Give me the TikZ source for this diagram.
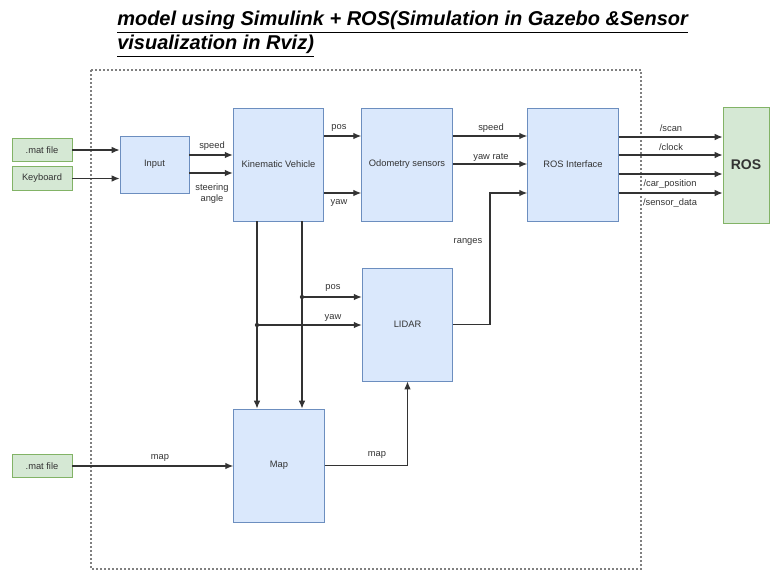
\documentclass[tikz,border=0pt]{standalone}
\usepackage{fontspec}
\setmainfont{Liberation Sans}
\usepackage{tikz}
\usetikzlibrary{arrows.meta}
\definecolor{blkfill}{HTML}{DAE8FC}
\definecolor{blkline}{HTML}{6C8EBF}
\definecolor{srcfill}{HTML}{D5E8D4}
\definecolor{srcline}{HTML}{82B366}
\definecolor{wire}{HTML}{333333}

\tikzset{
  blk/.style={draw=blkline, fill=blkfill, line width=0.6pt, inner sep=0pt,
    minimum width=68pt, minimum height=84.75pt, font=\fontsize{7}{8}\selectfont, text=wire},
  src/.style={draw=srcline, fill=srcfill, line width=0.6pt, inner sep=0pt,
    minimum width=45pt, minimum height=17.5pt, font=\fontsize{7}{8}\selectfont, text=wire},
  lbl/.style={font=\fontsize{7}{8}\selectfont, text=wire, inner sep=0pt, align=center},
  wr/.style={draw=wire, line width=0.9pt, -{Latex[length=6pt,width=5pt]}}
}

\begin{document}
\begin{tikzpicture}[x=0.75pt, y=-0.75pt]
\useasboundingbox (0,0) rectangle (776,576);
% title
\node[anchor=north west, align=left, inner sep=0pt, font=\fontsize{15}{18}\selectfont\bfseries\itshape] (title) at (117,11)
  {\underline{model using Simulink + ROS(Simulation in Gazebo \&Sensor}\\\underline{visualization in Rviz)}};
% subsystem frame
\draw[gray, line width=1pt, dash pattern=on 1.5pt off 1.5pt] (91,70) rectangle (641,569);

% sources
\node[src] (matA) at (42,150) {.mat file};
\node[src] (keyb) at (42,178.5) {Keyboard};
\node[src] (matB) at (42,466) {.mat file};

% blocks
\node[blk, minimum width=51.75pt, minimum height=42.75pt] (input) at (154.5,164.5) {Input};
\node[blk] (kin) at (278.5,164.5) {Kinematic Vehicle};
\node[blk] (odo) at (407,164.5) {Odometry sensors};
\node[blk] (rosif) at (573,164.5) {ROS Interface};
\node[blk] (lidar) at (407.5,324.5) {LIDAR};
\node[blk] (map) at (279,465.5) {Map};
\node[src, minimum width=34.5pt, minimum height=87pt, font=\fontsize{10.5}{12}\selectfont\bfseries] (ros) at (746,165) {ROS};

% inputs
\draw[wr] (matA.east) -- (input.west |- matA.east);
\draw[wr] (keyb.east) -- (input.west |- keyb.east);
\draw[wr] (input.east |- 0,155) -- (kin.west |- 0,155);
\draw[wr] (input.east |- 0,173) -- (kin.west |- 0,173);
\node[lbl] (lspeed) at (212,146) {speed};
\node[lbl] (lsteer) at (212,193.5) {steering\\angle};

% vehicle -> odometry
\draw[wr] (kin.east |- 0,136) -- (odo.west |- 0,136);
\draw[wr] (kin.east |- 0,193) -- (odo.west |- 0,193);
\node[lbl] (lpos) at (339,128) {pos};
\node[lbl] (lyaw) at (339,203) {yaw};

% odometry -> ROS interface
\draw[wr] (odo.east |- 0,136) -- (rosif.west |- 0,136);
\draw[wr] (odo.east |- 0,164) -- (rosif.west |- 0,164);
\node[lbl] (lspeed2) at (491,128) {speed};
\node[lbl] (lyawr) at (491,157) {yaw rate};

% vehicle -> map, with taps to LIDAR
\coordinate (b1) at (302,297);
\coordinate (b2) at (257,325);
\draw[wr] (kin.south -| b2) -- (map.north -| b2);
\draw[wr] (kin.south -| b1) -- (map.north -| b1);
\fill[wire] (b1) circle (1.6pt);
\fill[wire] (b2) circle (1.6pt);
\draw[wr] (b1) -- (lidar.west |- b1);
\draw[wr] (b2) -- (lidar.west |- b2);
\node[lbl] (lpos2) at (333,288) {pos};
\node[lbl] (lyaw2) at (333,318) {yaw};

% LIDAR -> ROS interface
\coordinate (r1) at (490,193);
\draw[wr] (lidar.east) -| (r1) -- (rosif.west |- r1);
\node[lbl] (lrng) at (468,242) {ranges};

% map
\draw[wr] (matB.east) -- (map.west |- matB.east);
\draw[wr] (map.east) -| (lidar.south);
\node[lbl] (lmap) at (160,458) {map};
\node[lbl] (lmap2) at (377,455) {map};

% ROS interface -> ROS
\foreach \y in {137,155,174,193}
  \draw[wr] (rosif.east |- 0,\y) -- (ros.west |- 0,\y);
\node[lbl] (lscan) at (671,128) {/scan};
\node[lbl] (lclock) at (671,147) {/clock};
\node[lbl] (lcar) at (670,184) {/car\_position};
\node[lbl] (lsens) at (670,203) {/sensor\_data};
\end{tikzpicture}
\end{document}
